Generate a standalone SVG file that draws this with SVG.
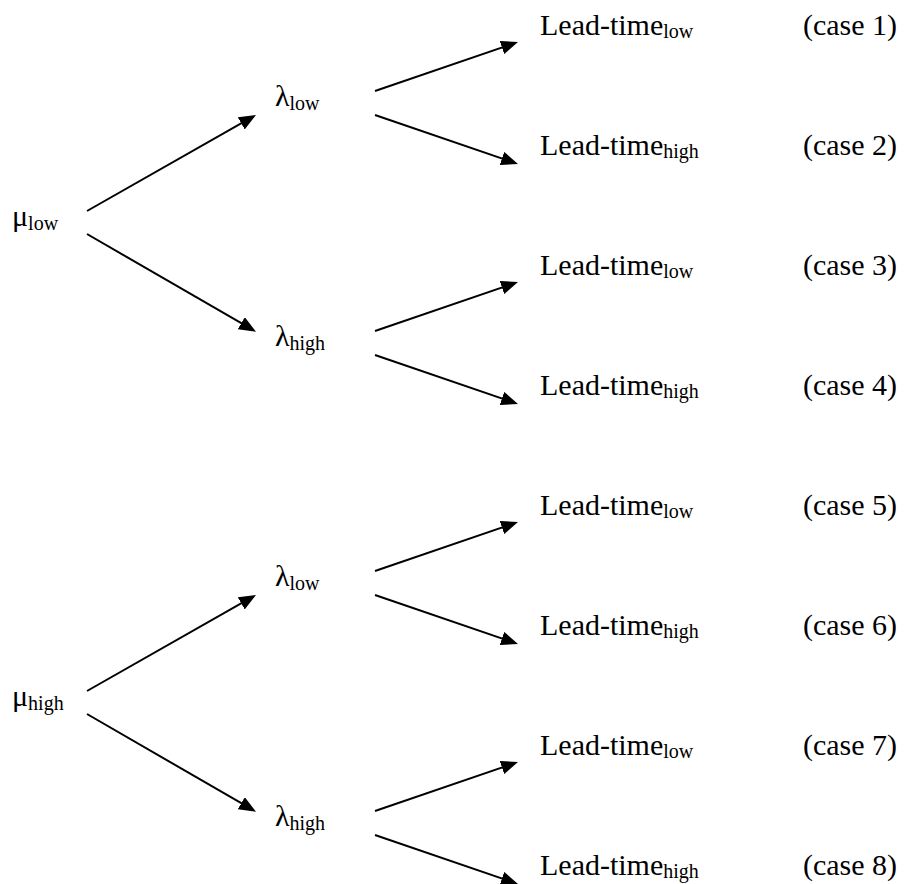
<svg xmlns="http://www.w3.org/2000/svg" width="904" height="884" viewBox="0 0 904 884">
  <defs>
    <marker id="arrow" markerUnits="userSpaceOnUse" markerWidth="17" markerHeight="14" refX="12" refY="7" orient="auto">
      <path d="M0,0 L17,7 L0,14 z" fill="#000"/>
    </marker>
    <style>
      .lbl { font-size: 30px; fill: #000; }
      .sub { font-size: 20px; }
      .edge { stroke: #000; stroke-width: 2; fill: none; marker-end: url(#arrow); }
    </style>
  </defs>
  <rect width="904" height="884" fill="#fff"/>

  <!-- connectors -->
  <g id="connectors">
    <!-- upper tree -->
    <line class="edge" x1="87" y1="211" x2="251.65" y2="117.47"/>
    <line class="edge" x1="87" y1="234" x2="251.67" y2="329.2"/>
    <line class="edge" x1="375" y1="91" x2="513.27" y2="43.62"/>
    <line class="edge" x1="375" y1="115" x2="513.27" y2="162.38"/>
    <line class="edge" x1="375" y1="331" x2="513.27" y2="283.62"/>
    <line class="edge" x1="375" y1="355" x2="513.27" y2="402.38"/>
    <!-- lower tree -->
    <line class="edge" x1="87" y1="691" x2="251.65" y2="597.47"/>
    <line class="edge" x1="87" y1="714" x2="251.67" y2="809.2"/>
    <line class="edge" x1="375" y1="571" x2="513.27" y2="523.62"/>
    <line class="edge" x1="375" y1="595" x2="513.27" y2="642.38"/>
    <line class="edge" x1="375" y1="811" x2="513.27" y2="763.62"/>
    <line class="edge" x1="375" y1="835" x2="513.27" y2="882.38"/>
  </g>

  <g font-family="Liberation Serif, DejaVu Serif, serif">
    <!-- root nodes -->
    <g id="mu-low"><text class="lbl" x="12" y="226">μ<tspan class="sub" dy="4">low</tspan></text></g>
    <g id="mu-high"><text class="lbl" x="12" y="706">μ<tspan class="sub" dy="4">high</tspan></text></g>

    <!-- second level -->
    <g id="lambda-low-1"><text class="lbl" x="275" y="106">λ<tspan class="sub" dy="4">low</tspan></text></g>
    <g id="lambda-high-1"><text class="lbl" x="275" y="346">λ<tspan class="sub" dy="4">high</tspan></text></g>
    <g id="lambda-low-2"><text class="lbl" x="275" y="586">λ<tspan class="sub" dy="4">low</tspan></text></g>
    <g id="lambda-high-2"><text class="lbl" x="275" y="826">λ<tspan class="sub" dy="4">high</tspan></text></g>

    <!-- leaves -->
    <g id="case1"><text class="lbl" x="540" y="35">Lead-time<tspan class="sub" dy="3">low</tspan></text><text class="lbl" x="803" y="35">(case 1)</text></g>
    <g id="case2"><text class="lbl" x="540" y="155">Lead-time<tspan class="sub" dy="3">high</tspan></text><text class="lbl" x="803" y="155">(case 2)</text></g>
    <g id="case3"><text class="lbl" x="540" y="275">Lead-time<tspan class="sub" dy="3">low</tspan></text><text class="lbl" x="803" y="275">(case 3)</text></g>
    <g id="case4"><text class="lbl" x="540" y="395">Lead-time<tspan class="sub" dy="3">high</tspan></text><text class="lbl" x="803" y="395">(case 4)</text></g>
    <g id="case5"><text class="lbl" x="540" y="515">Lead-time<tspan class="sub" dy="3">low</tspan></text><text class="lbl" x="803" y="515">(case 5)</text></g>
    <g id="case6"><text class="lbl" x="540" y="635">Lead-time<tspan class="sub" dy="3">high</tspan></text><text class="lbl" x="803" y="635">(case 6)</text></g>
    <g id="case7"><text class="lbl" x="540" y="755">Lead-time<tspan class="sub" dy="3">low</tspan></text><text class="lbl" x="803" y="755">(case 7)</text></g>
    <g id="case8"><text class="lbl" x="540" y="875">Lead-time<tspan class="sub" dy="3">high</tspan></text><text class="lbl" x="803" y="875">(case 8)</text></g>
  </g>
</svg>
